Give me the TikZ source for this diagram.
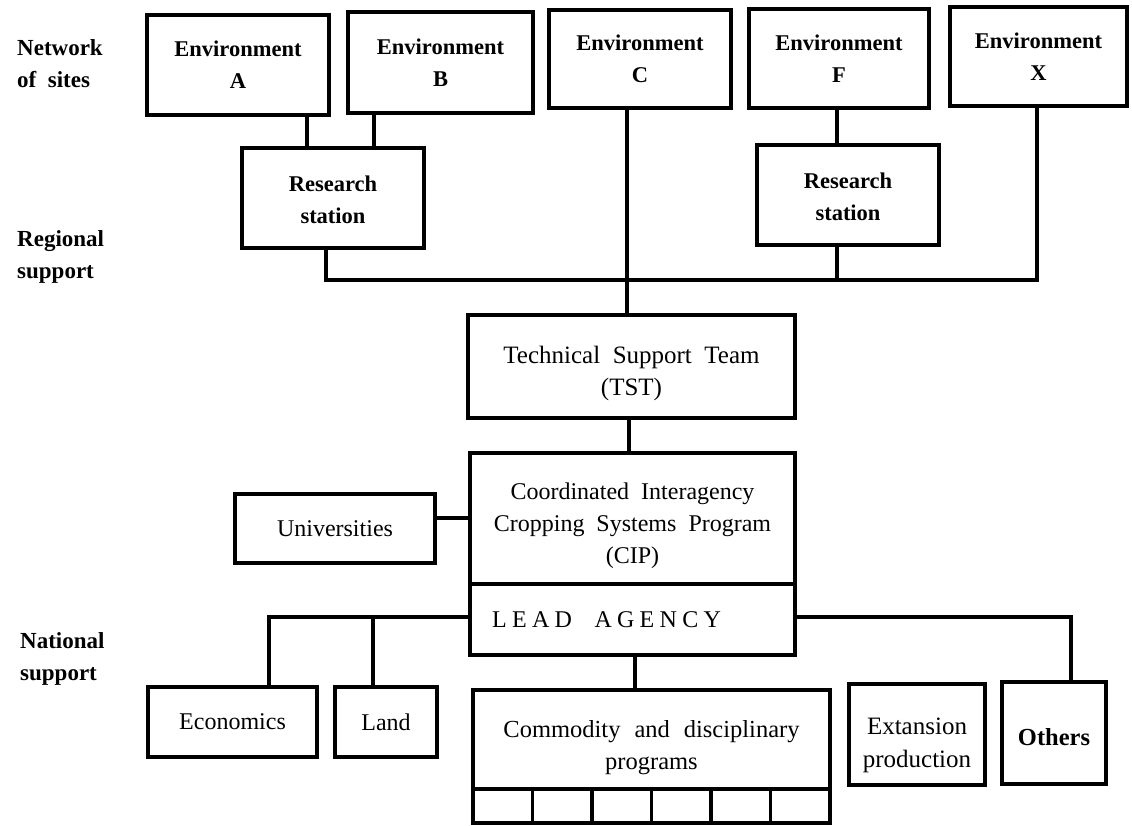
\documentclass[tikz,border=0pt]{standalone}
\usepackage{fontspec}
\setmainfont{Liberation Serif}[WordSpace=2]
\begin{document}
\begin{tikzpicture}[x=1pt,y=-1pt,
  box/.style={draw,line width=3.2pt,inner sep=0pt,outer sep=0pt,align=center},
  bfbox/.style={box,font=\fontsize{22.5}{32}\selectfont\bfseries},
  rgbox/.style={box,font=\fontsize{24}{32}\selectfont},
  cellbox/.style={draw,line width=3.2pt,inner sep=0pt,outer sep=0pt,minimum width=59.5pt,minimum height=34pt},
  lbl/.style={inner sep=0pt,align=left,anchor=west,font=\fontsize{23}{32}\selectfont\bfseries},
  conn/.style={line width=3.2pt}]
\useasboundingbox (0,0) rectangle (1132,826);
% left labels
\node[lbl] (net) at (17,64) {Network\\of sites};
\node[lbl] (reg) at (17,257) {Regional\\support};
\node[lbl] (nat) at (20,659) {National\\support};
% environments
\node[bfbox,minimum width=182pt,minimum height=100pt] (envA) at (238,65) {Environment\\A};
\node[bfbox,minimum width=185pt,minimum height=101pt] (envB) at (440.5,62.5) {Environment\\B};
\node[bfbox,minimum width=182pt,minimum height=98pt] (envC) at (640,59) {Environment\\C};
\node[bfbox,minimum width=180pt,minimum height=99pt] (envF) at (839,58.5) {Environment\\F};
\node[bfbox,minimum width=177pt,minimum height=99pt] (envX) at (1038.5,56.5) {Environment\\X};
% research stations
\node[bfbox,minimum width=182pt,minimum height=100pt] (rs1) at (333,198) {\rule{0pt}{20pt}Research\\station};
\node[bfbox,minimum width=182pt,minimum height=100pt] (rs2) at (848,195) {\rule{0pt}{20pt}Research\\station};
% TST, CIP
\node[rgbox,font=\fontsize{25}{32}\selectfont,minimum width=327pt,minimum height=103pt] (tst) at (631.5,366.5) {\rule{0pt}{31pt}Technical Support Team\\(TST)};
\node[rgbox,minimum width=325pt,minimum height=131pt] (cip) at (632.5,518.5) {\rule{0pt}{32pt}Coordinated Interagency\\Cropping Systems Program\\(CIP)};
\node[rgbox,minimum width=325pt,minimum height=71pt] (lead) at (632.5,619.5) {\addfontfeature{LetterSpace=22}LEAD AGENCY\hspace{52pt}};
\node[rgbox,minimum width=200pt,minimum height=69pt] (univ) at (335,528.5) {Universities};
% national
\node[rgbox,minimum width=169pt,minimum height=70pt] (econ) at (232.5,722) {Economics};
\node[rgbox,minimum width=102pt,minimum height=70pt] (land) at (386,722) {Land};
\node[rgbox,font=\fontsize{24.5}{32}\selectfont,minimum width=357pt,minimum height=99pt] (comm) at (651.5,739.5) {\rule{0pt}{34pt}Commodity\hspace{14pt}and\hspace{14pt}disciplinary\\programs};
\foreach \i in {1,...,6} \node[cellbox] (cell\i) at ({473+59.5*(\i-0.5)},806) {};
\node[rgbox,font=\fontsize{25}{33}\selectfont,minimum width=136pt,minimum height=101pt] (ext) at (917,734.5) {\rule{0pt}{38pt}Extansion\\production};
\node[bfbox,font=\fontsize{24.5}{32}\selectfont\bfseries,minimum width=104pt,minimum height=102pt] (others) at (1054,733) {\rule{0pt}{25pt}Others};
% coordinates
\coordinate (pA) at (307,0);
\coordinate (pB) at (374,0);
\coordinate (pF) at (837,0);
\coordinate (busL) at (326,280);
\coordinate (busR) at (1037,280);
\coordinate (xc) at (627,0);
\coordinate (xt) at (629,0);
\coordinate (yu) at (0,518);
\coordinate (ly) at (0,617);
\coordinate (ex) at (269,0);
\coordinate (lx) at (373,0);
\coordinate (ox) at (1071,0);
\coordinate (cx) at (635,0);
% connectors
\draw[conn] (envA.south -| pA) -- (rs1.north -| pA);
\draw[conn] (envB.south -| pB) -- (rs1.north -| pB);
\draw[conn] (envF.south -| pF) -- (rs2.north -| pF);
\draw[conn] (rs1.south -| busL) -- (busL) -- (busR) -- (envX.south -| busR);
\draw[conn] (rs2.south -| pF) -- (pF |- busL);
\draw[conn] (envC.south -| xc) -- (tst.north -| xc);
\draw[conn] (tst.south -| xt) -- (cip.north -| xt);
\draw[conn] (univ.east |- yu) -- (cip.west |- yu);
\draw[conn] (lead.west |- ly) -- (ex |- ly) -- (econ.north -| ex);
\draw[conn] (lx |- ly) -- (land.north -| lx);
\draw[conn] (lead.east |- ly) -- (ox |- ly) -- (others.north -| ox);
\draw[conn] (lead.south -| cx) -- (comm.north -| cx);
\end{tikzpicture}
\end{document}
